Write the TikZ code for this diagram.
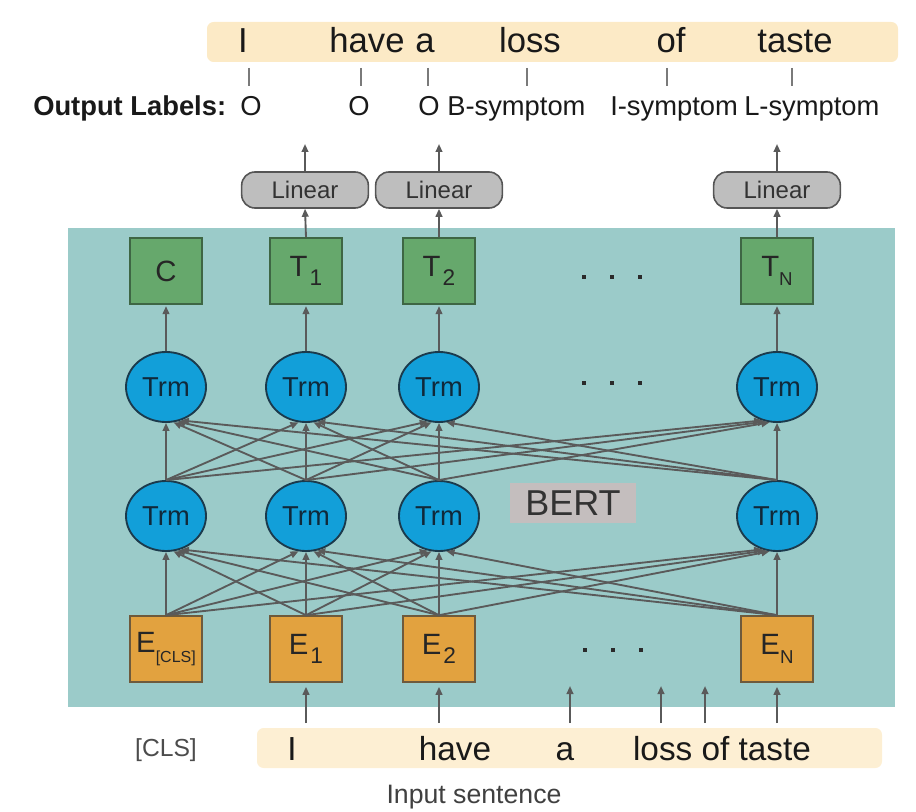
\documentclass[tikz,border=0pt]{standalone}
\usepackage{fontspec}
\setmainfont{Liberation Sans}
\usetikzlibrary{shapes.geometric,arrows.meta,calc}
\definecolor{panelc}{HTML}{9BCBC9}
\definecolor{topbarc}{HTML}{FCEAC6}
\definecolor{inbarc}{HTML}{FDEFD3}
\definecolor{linec}{HTML}{5A5A5A}
\definecolor{greenf}{HTML}{66A86C}
\definecolor{greenb}{HTML}{3E6644}
\definecolor{orangef}{HTML}{E2A23F}
\definecolor{orangeb}{HTML}{6E5A3C}
\definecolor{trmf}{HTML}{129FD9}
\definecolor{trmb}{HTML}{1B3A4C}
\definecolor{trmt}{HTML}{10293A}
\definecolor{linf}{HTML}{BEBEBE}
\definecolor{linb}{HTML}{555555}
\definecolor{bertf}{HTML}{C4BEBE}
\definecolor{tickc}{HTML}{7A7A7A}
\definecolor{dotc}{HTML}{2A2A2A}
\newcommand\fsz[1]{\fontsize{#1}{#1}\selectfont}
\newcommand\subx[2]{#1\kern1.5pt\raisebox{-7pt}{\fsz{17pt}#2}}
\newcommand\subn[2]{#1\raisebox{-7pt}{\fsz{14pt}#2}}
\begin{document}
\begin{tikzpicture}[x=0.75pt,y=-0.75pt,
  conn/.style={draw=linec, line width=1.4pt, -{Triangle[length=6pt,width=5pt]}},
  tick/.style={draw=tickc, line width=1.2pt},
  word/.style={anchor=base, inner sep=0pt, font=\fsz{26pt}, text=black!90},
  inword/.style={anchor=base, inner sep=0pt, font=\fsz{25pt}, text=black!90},
  lab/.style={anchor=base west, inner sep=0pt, font=\fsz{20.5pt}, text=black!90},
  greenbox/.style={draw=greenb, fill=greenf, line width=1.2pt, minimum width=54pt, minimum height=49.5pt, inner sep=0pt, font=\fsz{22pt}, text=black!85},
  orangebox/.style={draw=orangeb, fill=orangef, line width=1.2pt, minimum width=54pt, minimum height=49.5pt, inner sep=0pt, font=\fsz{22pt}, text=black!85},
  trm/.style={ellipse, draw=trmb, fill=trmf, line width=1.4pt, minimum width=60pt, minimum height=52.5pt, inner sep=0pt, font=\fsz{20.5pt}, text=trmt},
  linear/.style={rounded corners=10pt, draw=linb, fill=linf, line width=1.2pt, minimum width=95pt, minimum height=27pt, inner sep=0pt, font=\fsz{18pt}, text=black!80},
  dotsq/.style={fill=dotc, minimum size=3.6pt, inner sep=0pt}
]
\useasboundingbox (0,0) rectangle (916,812);
% backgrounds
\fill[panelc] (68,228) rectangle (895,707);
\fill[topbarc, rounded corners=5pt] (207,22) rectangle (898,62);
\fill[inbarc, rounded corners=5pt] (257,728) rectangle (882,768);

% top sentence
\node[word] (wI) at (243,53) {I};
\node[word] (whave) at (367,53) {have};
\node[word] (wa) at (425,53) {a};
\node[word] (wloss) at (530,53) {loss};
\node[word] (wof) at (671,53) {of};
\node[word] (wtaste) at (795,53) {taste};

% ticks
\foreach \i/\x in {1/249,2/361,3/428,4/527,5/667,6/792}{
  \coordinate (ta\i) at (\x,68);
  \coordinate (tb\i) at (\x,86);
  \draw[tick] (ta\i) -- (tb\i);
}

% output labels
\node[lab, font=\fsz{20.5pt}\bfseries] (olab) at (33,116) {Output Labels:};
\node[lab] (o1) at (240,116) {O};
\node[lab] (o2) at (348,116) {O};
\node[lab] (o3) at (418,116) {O};
\node[lab] (o4) at (447,116) {B-symptom};
\node[lab] (o5) at (610,116) {I-symptom};
\node[lab] (o6) at (744,116) {L-symptom};

% linear
\node[linear] (l1) at (305,190) {Linear};
\node[linear] (l2) at (439,190) {Linear};
\node[linear] (l3) at (777,190) {Linear};
\coordinate (p1) at (305,144);
\coordinate (p2) at (439,144);
\coordinate (p3) at (777,144);
\foreach \i in {1,2,3}{\draw[conn] (l\i.north) -- (p\i);}

% T row
\node[greenbox] (t0) at (166,271) {C};
\node[greenbox] (t1) at (306,271) {\subx{T}{1}};
\node[greenbox] (t2) at (439,271) {\subx{T}{2}};
\node[greenbox] (t3) at (777,271) {\subn{T}{N}};
\foreach \i/\x in {1/584,2/612,3/640}{\node[dotsq] (dt\i) at (\x,277) {};}

% upper Trm
\node[trm] (u0) at (166,387) {Trm};
\node[trm] (u1) at (306,387) {Trm};
\node[trm] (u2) at (439,387) {Trm};
\node[trm] (u3) at (777,387) {Trm};
\foreach \i/\x in {1/584,2/612,3/640}{\node[dotsq] (du\i) at (\x,383) {};}

% lower Trm
\node[trm] (b0) at (166,516) {Trm};
\node[trm] (b1) at (306,516) {Trm};
\node[trm] (b2) at (439,516) {Trm};
\node[trm] (b3) at (777,516) {Trm};

% BERT
\node[fill=bertf, minimum width=95pt, minimum height=30pt, inner sep=0pt, font=\fsz{27pt}, text=black!80] (bert) at (573,503) {BERT};

% E row
\node[orangebox] (e0) at (166,649) {\subn{E}{\fsz{12pt}[CLS]}};
\node[orangebox] (e1) at (306,649) {\subx{E}{1}};
\node[orangebox] (e2) at (439,649) {\subx{E}{2}};
\node[orangebox] (e3) at (777,649) {\subn{E}{N}};
\foreach \i/\x in {1/585,2/613,3/641}{\node[dotsq] (de\i) at (\x,650) {};}

% connections T -> Linear, Trm -> T
\draw[conn] (t1.north) -- (l1.south);
\draw[conn] (t2.north) -- (l2.south);
\draw[conn] (t3.north) -- (l3.south);
\foreach \i in {0,1,2,3}{
  \draw[conn, shorten >=1pt] (u\i.north) -- (t\i.south);
  \draw[conn] (b\i.north) -- (u\i.south);
  \draw[conn] (e\i.north) -- (b\i.south);
}
% cross connections
\foreach \s/\t/\a in {1/0/-78,2/0/-72,3/0/-66,
                      0/1/-102,2/1/-78,3/1/-72,
                      0/2/-108,1/2/-102,3/2/-78,
                      0/3/-114,1/3/-108,2/3/-102}{
  \draw[conn] (b\s.north) -- (u\t.\a);
  \draw[conn] (e\s.north) -- (b\t.\a);
}

% input sentence
\node[inword] (iI) at (292,760) {I};
\node[inword] (ihave) at (455,760) {have};
\node[inword] (ia) at (565,760) {a};
\node[inword] (iloss) at (722,760) {loss of taste};
\node[anchor=base, inner sep=0pt, font=\fsz{18.5pt}, text=black!70] (cls) at (166,756) {[CLS]};
\node[anchor=base, inner sep=0pt, font=\fsz{20pt}, text=black!75] (insent) at (474,803) {Input sentence};

% input arrows
\foreach \i/\x in {1/306,2/439,3/777}{
  \coordinate (q\i) at (\x,723);
}
\draw[conn, shorten >=3pt] (q1) -- (e1.south);
\draw[conn, shorten >=3pt] (q2) -- (e2.south);
\draw[conn, shorten >=3pt] (q3) -- (e3.south);
\foreach \i/\x in {4/570,5/661,6/705}{
  \coordinate (q\i) at (\x,723);
  \coordinate (r\i) at (\x,686);
  \draw[conn] (q\i) -- (r\i);
}
\end{tikzpicture}
\end{document}
